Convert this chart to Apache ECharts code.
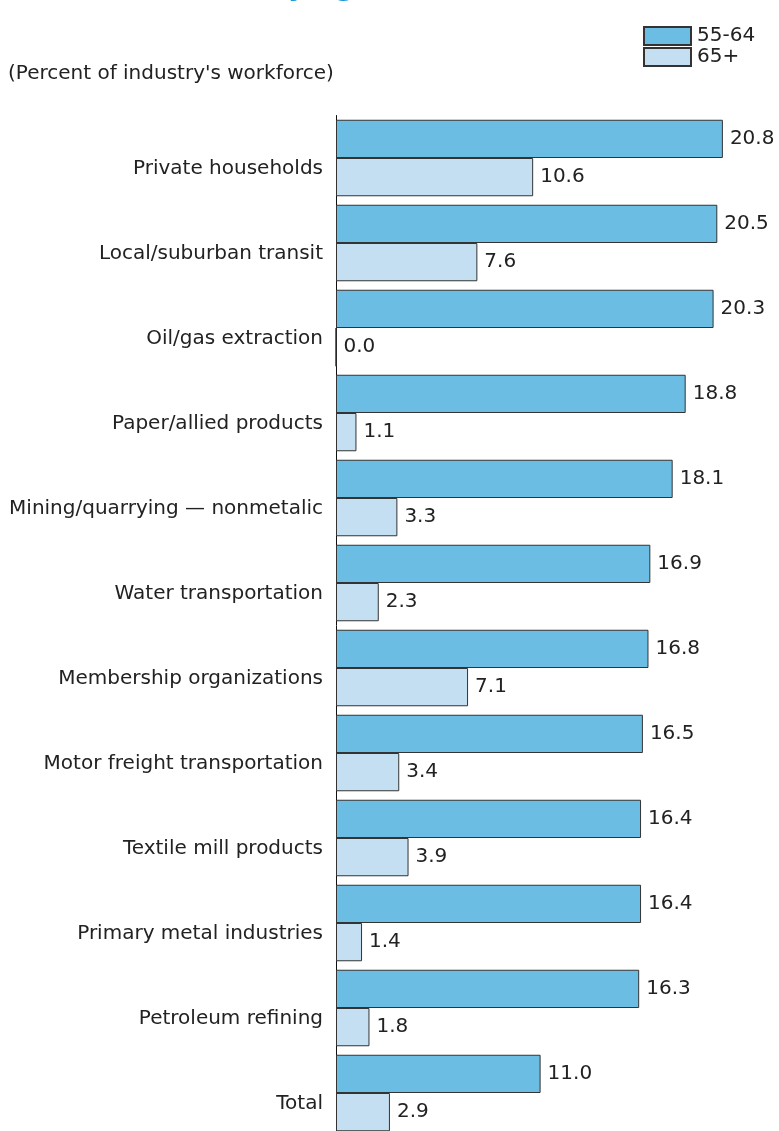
<!DOCTYPE html>
<html>
<head>
<meta charset="utf-8">
<style>
html,body{margin:0;padding:0;background:#fff;overflow:hidden;}
#chart{width:779px;height:1160px;}
</style>
<script src="https://cdn.jsdelivr.net/npm/echarts@6/dist/echarts.min.js"></script>
</head>
<body>
<div id="chart"></div>
<script>
var categories = [
  "Private households",
  "Local/suburban transit",
  "Oil/gas extraction",
  "Paper/allied products",
  "Mining/quarrying \u2014 nonmetalic",
  "Water transportation",
  "Membership organizations",
  "Motor freight transportation",
  "Textile mill products",
  "Primary metal industries",
  "Petroleum refining",
  "Total"
];
var age55to64 = [20.8, 20.5, 20.3, 18.8, 18.1, 16.9, 16.8, 16.5, 16.4, 16.4, 16.3, 11.0];
var age65plus = [10.6, 7.6, 0.0, 1.1, 3.3, 2.3, 7.1, 3.4, 3.9, 1.4, 1.8, 2.9];
var seriesNames = ["55-64", "65+"];

var chart = echarts.init(document.getElementById('chart'), null, {renderer: 'canvas'});
var FONT = 'DejaVu Sans';
var labelCfg = {
  show: true,
  position: 'right',
  distance: 7,
  color: '#222',
  fontFamily: FONT,
  fontSize: 20,
  formatter: function (p) { return p.value.toFixed(1); }
};
chart.setOption({
  animation: false,
  backgroundColor: '#fff',
  textStyle: {fontFamily: FONT},
  graphic: [
    {
      type: 'text',
      left: 268,
      top: -26,
      style: {text: 'by age', fill: '#1a9ad6', font: 'bold 28px "DejaVu Sans"'}
    },
    {
      type: 'text',
      left: 8,
      top: 64,
      style: {text: "(Percent of industry's workforce)", fill: '#222', font: '20px "DejaVu Sans"'}
    }
  ],
  legend: {
    orient: 'vertical',
    left: 643,
    top: 26,
    padding: 0,
    itemWidth: 47,
    itemHeight: 18,
    itemGap: 1,
    icon: 'rect',
    textStyle: {fontSize: 20, lineHeight: 18, height: 18, color: '#222', fontFamily: FONT, padding: [0, 0, 0, 1]},
    data: seriesNames
  },
  grid: {left: 336, top: 115.5, width: 23 * 18.6, height: 1020, containLabel: false},
  xAxis: {
    type: 'value',
    min: 0,
    max: 23,
    show: false
  },
  yAxis: {
    type: 'category',
    data: categories,
    inverse: true,
    axisLine: {show: true, lineStyle: {color: '#111', width: 1}},
    axisTick: {show: false},
    axisLabel: {color: '#222', fontSize: 20, fontFamily: FONT, margin: 13, verticalAlign: 'top', lineHeight: 21}
  },
  series: [
    {
      name: seriesNames[0],
      type: 'bar',
      data: age55to64,
      barGap: '0%',
      barCategoryGap: '10%',
      itemStyle: {color: '#6bbde3', borderColor: '#333', borderWidth: 1},
      label: labelCfg
    },
    {
      name: seriesNames[1],
      type: 'bar',
      data: age65plus,
      barGap: '0%',
      barCategoryGap: '10%',
      itemStyle: {color: '#c3dff1', borderColor: '#333', borderWidth: 1},
      label: labelCfg
    }
  ]
});
</script>
</body>
</html>
